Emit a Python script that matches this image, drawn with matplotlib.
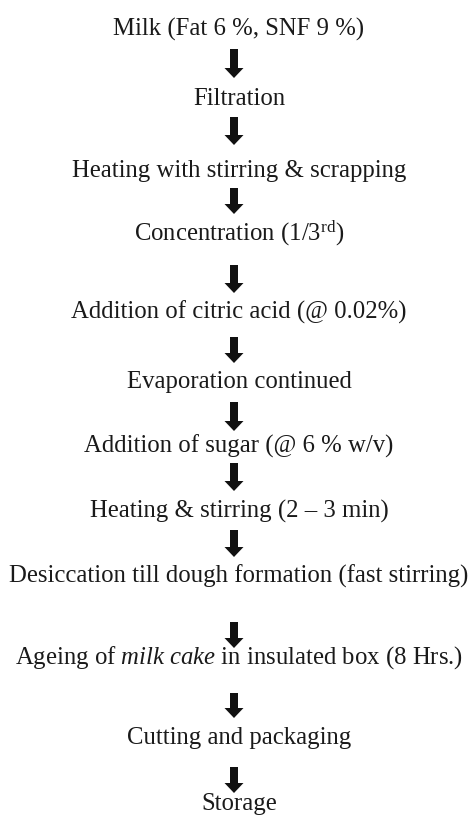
import matplotlib
matplotlib.use("Agg")
import matplotlib.pyplot as plt

plt.rcParams['font.family'] = ['Liberation Serif', 'DejaVu Serif']
plt.rcParams['mathtext.fontset'] = 'custom'
plt.rcParams['mathtext.rm'] = 'Liberation Serif'
plt.rcParams['mathtext.it'] = 'Liberation Serif:italic'

# process steps (top to bottom)
steps = [
    "Milk (Fat 6 %, SNF 9 %)",
    "Filtration",
    "Heating with stirring & scrapping",
    r"Concentration (1/3$^{\mathrm{rd}}$)",
    "Addition of citric acid (@ 0.02%)",
    "Evaporation continued",
    "Addition of sugar (@ 6 % w/v)",
    "Heating & stirring (2 \u2013 3 min)",
    "Desiccation till dough formation (fast stirring)",
    r"Ageing of $\mathit{milk\ cake}$ in insulated box (8 Hrs.)",
    "Cutting and packaging",
    "Storage",
]

# layout (pixel rows of text centres and arrows)
text_y = [29, 99, 171, 233, 312, 382, 446, 511, 576, 658, 738, 804]
arrow_top = [49, 117, 188, 265, 337, 402, 463, 530, 622, 693, 767]
arrow_tip = [78, 145, 214, 293, 363, 431, 491, 557, 648, 718, 793]

W, H = 472, 816
fig = plt.figure(figsize=(W / 100, H / 100), dpi=100)
ax = fig.add_axes([0, 0, 1, 1])
ax.set_xlim(0, W)
ax.set_ylim(H, 0)
ax.axis('off')

for label, y in zip(steps, text_y):
    ax.text(239, y, label, ha='center', va='center', fontsize=17.8, color='#1a1a1a')

for top, tip in zip(arrow_top, arrow_tip):
    ax.arrow(234, top, 0, tip - top, width=8, head_width=19, head_length=10,
             length_includes_head=True, color='#111111', lw=0)

fig.savefig('out.png', dpi=100)
